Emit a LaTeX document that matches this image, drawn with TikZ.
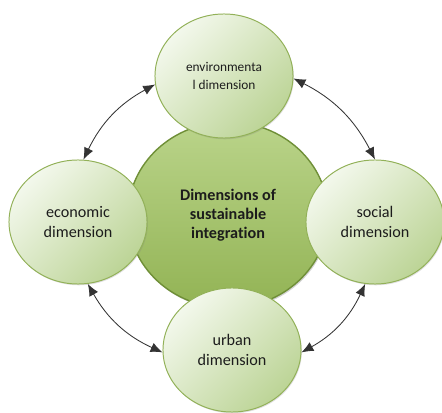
\documentclass[tikz,border=0pt]{standalone}
\usepackage{fontspec}
\setmainfont{Carlito}[Ligatures=NoCommon]
\usetikzlibrary{shapes.geometric,arrows.meta,shadows}
\definecolor{dimpale}{HTML}{F3F8EC}
\definecolor{dimleaf}{HTML}{BCD496}
\definecolor{dimrim}{HTML}{92B158}
\definecolor{corelight}{HTML}{BAD48A}
\definecolor{coremid}{HTML}{A0C062}
\definecolor{coredark}{HTML}{92B354}
\definecolor{corerim}{HTML}{6F8F37}
\definecolor{dimtext}{HTML}{1C1C1C}
\tikzset{
  dimnode/.style={ellipse,draw=dimrim,line width=0.7pt,minimum width=3.45cm,minimum height=3.1cm,inner sep=0pt,align=center,
    shading=axis,top color=dimpale,bottom color=dimleaf,shading angle=45,text=dimtext,
    font=\fontsize{11.5}{14}\selectfont,drop shadow={opacity=0.25,shadow xshift=0.6pt,shadow yshift=-0.9pt}},
  corenode/.style={ellipse,draw=corerim,line width=1pt,minimum width=5cm,minimum height=4.65cm,inner sep=0pt,align=center,
    top color=corelight,middle color=coremid,bottom color=coredark,text=dimtext,
    font=\bfseries\fontsize{11.5}{13.7}\selectfont,drop shadow={opacity=0.35,shadow xshift=0.8pt,shadow yshift=-1.2pt}},
  dimlink/.style={{Latex[length=8.5pt,width=7pt]}-{Latex[length=8.5pt,width=7pt]},line width=0.6pt,draw=black!80}
}
\begin{document}
\begin{tikzpicture}[x=0.025cm,y=-0.025cm]
\useasboundingbox (0,0) rectangle (442,413);
\node[corenode] (core) at (228,215) {Dimensions of\\sustainable\\integration};
\node[dimnode,font=\fontsize{9.5}{12.7}\selectfont] (env) at (224,76) {environmenta\\l dimension};
\node[dimnode] (eco) at (78,222) {economic\\dimension};
\node[dimnode] (soc) at (375,222) {social\\dimension};
\node[dimnode] (urb) at (232,350) {urban\\dimension};
\draw[dimlink] (env.187) to[bend right=18] (eco.85);
\draw[dimlink] (env.358) to[bend left=18] (soc.90);
\draw[dimlink] (eco.279) to[bend right=18] (urb.182);
\draw[dimlink] (soc.261) to[bend left=18] (urb.358);
\end{tikzpicture}
\end{document}
